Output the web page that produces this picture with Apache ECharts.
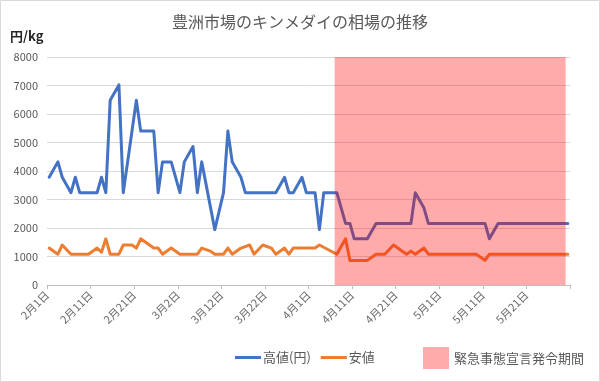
<!DOCTYPE html>
<html>
<head>
<meta charset="utf-8">
<script src="https://cdn.jsdelivr.net/npm/echarts@6/dist/echarts.min.js"></script>
<style>
  html, body { margin: 0; padding: 0; background: #fff; }
  #chart { width: 600px; height: 382px; }
</style>
</head>
<body>
<div id="chart"></div>
<script>
// ---- data (2020) ----
const highDates = ['2/1','2/3','2/4','2/6','2/7','2/8','2/12','2/13','2/14','2/15','2/17','2/18','2/21','2/22','2/25','2/26','2/27','2/29',
  '3/2','3/3','3/5','3/6','3/7','3/10','3/12','3/13','3/14','3/16','3/17','3/24','3/26','3/27','3/28','3/30','3/31',
  '4/2','4/3','4/4','4/7','4/9','4/10','4/11','4/14','4/16','4/24','4/25','4/27','4/28','5/11','5/12','5/14','5/30'];
const highValues = [3780,4320,3780,3240,3780,3240,3240,3780,3240,6480,7020,3240,6480,5400,5400,3240,4320,4320,
  3240,4320,4860,3240,4320,1944,3240,5400,4320,3780,3240,3240,3780,3240,3240,3780,3240,
  3240,1944,3240,3240,2160,2160,1620,1620,2160,2160,3240,2700,2160,2160,1620,2160,2160];

const lowDates = ['2/1','2/3','2/4','2/6','2/10','2/12','2/13','2/14','2/15','2/17','2/18','2/20','2/21','2/22','2/25','2/26','2/27','2/29',
  '3/2','3/6','3/7','3/9','3/10','3/12','3/13','3/14','3/16','3/18','3/19','3/21','3/23','3/24','3/26','3/27','3/28',
  '4/2','4/3','4/7','4/9','4/10','4/14','4/16','4/18','4/20','4/23','4/24','4/25','4/27','4/28','5/9','5/11','5/12','5/30'];
const lowValues = [1296,1080,1404,1080,1080,1296,1150,1620,1080,1080,1404,1404,1296,1620,1296,1296,1080,1296,
  1080,1080,1296,1188,1080,1080,1296,1080,1296,1404,1080,1404,1296,1080,1296,1080,1296,
  1296,1404,1080,1620,864,864,1080,1080,1404,1080,1188,1080,1296,1080,1080,864,1080,1080];

const emergencyPeriod = ['4/7', '5/29'];   // first and last day covered
const xTickLabels = ['2月1日','2月11日','2月21日','3月2日','3月12日','3月22日','4月1日','4月11日','4月21日','5月1日','5月11日','5月21日'];
const yTicks = [0,1000,2000,3000,4000,5000,6000,7000,8000];
const seriesNames = ['高値(円)', '安値', '緊急事態宣言発令期間'];

// ---- helpers ----
const BASE = Date.UTC(2020, 1, 1);
function dayIndex(s) {
  const [m, d] = s.split('/').map(Number);
  return Math.round((Date.UTC(2020, m - 1, d) - BASE) / 86400000);
}
// each date sits in the middle of its day slot
const toPoints = (dates, vals) => dates.map((s, i) => [dayIndex(s) + 0.5, vals[i]]);
const yMax = yTicks[yTicks.length - 1];
const emergencyData = [[dayIndex(emergencyPeriod[0]), dayIndex(emergencyPeriod[1]) + 1]];

const FONT = '"Noto Sans CJK JP", "Noto Sans", sans-serif';
const chart = echarts.init(document.getElementById('chart'), null, { renderer: 'canvas' });

chart.setOption({
  animation: false,
  textStyle: { fontFamily: FONT },
  title: {
    text: '豊洲市場のキンメダイの相場の推移',
    left: 'center', top: 9,
    textStyle: { fontFamily: FONT, fontSize: 16, fontWeight: 'normal', color: '#595959' }
  },
  graphic: [
    { type: 'rect', shape: { x: 0.5, y: 0.5, width: 599, height: 381 }, style: { fill: null, stroke: '#d9d9d9', lineWidth: 1 } },
    { type: 'text', left: 10, top: 30, style: { text: '円/kg', font: 'bold 13px ' + FONT, fill: '#262626' } }
  ],
  legend: [
    {
      data: [seriesNames[0], seriesNames[1]],
      left: 230, top: 346,
      icon: 'rect', itemWidth: 26, itemHeight: 3, itemGap: 10,
      textStyle: { fontFamily: FONT, fontSize: 13, color: '#595959', padding: [0, 0, 0, -3] }
    },
    {
      data: [seriesNames[2]],
      left: 418, top: 342,
      icon: 'rect', itemWidth: 26, itemHeight: 22,
      textStyle: { fontFamily: FONT, fontSize: 13, color: '#595959' }
    }
  ],
  grid: { left: 47, right: 30, top: 57, bottom: 97, containLabel: false },
  xAxis: {
    type: 'value', min: 0, max: 120, interval: 10,
    axisLine: { lineStyle: { color: '#bfbfbf' } },
    axisTick: { show: true, length: 4, lineStyle: { color: '#bfbfbf' } },
    splitLine: { show: false },
    axisLabel: {
      rotate: 45, margin: 8, fontSize: 11, color: '#6b6b6b', fontFamily: FONT,
      formatter: v => {
        const k = Math.round(v / 10);
        return (Math.abs(v - k * 10) < 1e-6 && k < xTickLabels.length) ? xTickLabels[k] : '';
      }
    }
  },
  yAxis: {
    type: 'value', min: yTicks[0], max: yMax, interval: yTicks[1] - yTicks[0],
    axisLine: { show: false }, axisTick: { show: false },
    splitLine: { lineStyle: { color: '#d9d9d9' } },
    axisLabel: { fontSize: 11, color: '#595959', margin: 9, fontFamily: FONT, formatter: v => String(v) }
  },
  series: [
    {
      name: seriesNames[0], type: 'line', symbol: 'none', z: 2,
      data: toPoints(highDates, highValues),
      itemStyle: { color: '#4472C4' },
      lineStyle: { color: '#4472C4', width: 3, join: 'round', cap: 'round' }
    },
    {
      name: seriesNames[1], type: 'line', symbol: 'none', z: 2,
      data: toPoints(lowDates, lowValues),
      itemStyle: { color: '#ED7D31' },
      lineStyle: { color: '#ED7D31', width: 3, join: 'round', cap: 'round' }
    },
    {
      name: seriesNames[2], type: 'custom', z: 5,
      data: emergencyData,
      encode: { x: [0, 1] },
      itemStyle: { color: 'rgba(255,0,0,0.33)' },
      renderItem: (params, api) => {
        const p0 = api.coord([api.value(0), yMax]);
        const p1 = api.coord([api.value(1), 0]);
        return {
          type: 'rect',
          shape: { x: p0[0], y: p0[1], width: p1[0] - p0[0], height: p1[1] - p0[1] },
          style: { fill: 'rgba(255,0,0,0.33)' }
        };
      }
    }
  ]
});
</script>
</body>
</html>
